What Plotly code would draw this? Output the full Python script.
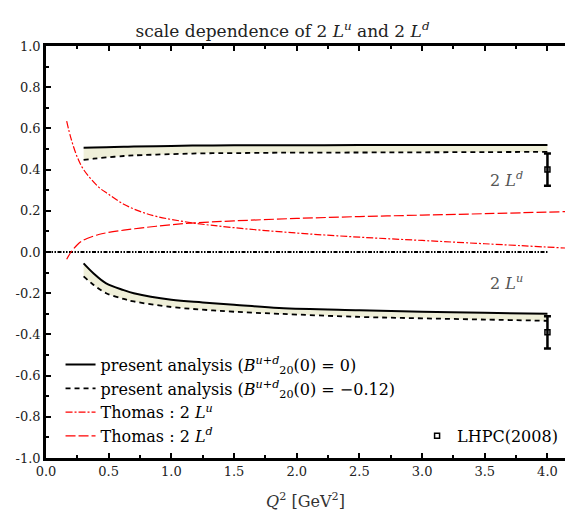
import plotly.graph_objects as go

# ---- data ----
q_band = [0.3, 0.38, 0.48, 0.62, 0.7, 1.0, 1.25, 1.5, 1.86, 2.5, 3.0, 3.5, 4.0]
ld_solid = [0.506, 0.507, 0.509, 0.511, 0.512, 0.515, 0.517, 0.518, 0.518, 0.519, 0.519, 0.52, 0.52]
ld_dashed = [0.447, 0.453, 0.459, 0.466, 0.469, 0.475, 0.479, 0.480, 0.482, 0.483, 0.484, 0.485, 0.486]
lu_solid = [-0.055, -0.104, -0.152, -0.185, -0.20, -0.232, -0.245, -0.256, -0.272, -0.283, -0.29, -0.295, -0.30]
lu_dashed = [-0.118, -0.16, -0.20, -0.228, -0.24, -0.267, -0.28, -0.29, -0.30, -0.315, -0.322, -0.328, -0.334]

q_thomas = [0.165, 0.2, 0.25, 0.3, 0.42, 0.5, 0.62, 0.75, 0.88, 1.15, 1.5, 2.0, 2.5, 3.0, 3.5, 4.15]
thomas_lu = [0.635, 0.55, 0.46, 0.40, 0.315, 0.28, 0.232, 0.197, 0.173, 0.143, 0.118, 0.092, 0.072, 0.056, 0.040, 0.019]
thomas_ld = [-0.035, 0.0, 0.035, 0.058, 0.085, 0.095, 0.106, 0.116, 0.125, 0.140, 0.151, 0.163, 0.172, 0.179, 0.186, 0.196]

lhpc_q = [4.0, 4.0]
lhpc_val = [0.40, -0.39]
lhpc_err = [0.078, 0.078]

zero_q = [0.0, 4.0]
zero_val = [0.0, 0.0]

x_ticks = [0.0, 0.5, 1.0, 1.5, 2.0, 2.5, 3.0, 3.5, 4.0]
x_ticklabels = ["0.0", "0.5", "1.0", "1.5", "2.0", "2.5", "3.0", "3.5", "4.0"]
y_ticks = [-1.0, -0.8, -0.6, -0.4, -0.2, 0.0, 0.2, 0.4, 0.6, 0.8, 1.0]
y_ticklabels = ["-1.0", "-0.8", "-0.6", "-0.4", "-0.2", "0.0", "0.2", "0.4", "0.6", "0.8", "1.0"]

SERIF = "DejaVu Serif"
BAND = "#efefd9"

fig = go.Figure()

# bands
for lo, hi in [(ld_dashed, ld_solid), (lu_dashed, lu_solid)]:
    fig.add_trace(go.Scatter(x=q_band, y=lo, mode="lines", line=dict(width=0, shape="spline"),
                             showlegend=False, hoverinfo="skip"))
    fig.add_trace(go.Scatter(x=q_band, y=hi, mode="lines", line=dict(width=0, shape="spline"),
                             fill="tonexty", fillcolor=BAND, showlegend=False, hoverinfo="skip"))

# zero line
fig.add_trace(go.Scatter(x=zero_q, y=zero_val, mode="lines",
                         line=dict(color="black", width=1.8, dash="4px,1.5px,1.5px,1.5px,1.5px,1.5px"),
                         showlegend=False))

# present analysis
sol_name = "present analysis (<i>B</i><sup><i>u</i>+<i>d</i></sup><sub>20</sub>(0) = 0)"
das_name = "present analysis (<i>B</i><sup><i>u</i>+<i>d</i></sup><sub>20</sub>(0) = −0.12)"
fig.add_trace(go.Scatter(x=q_band, y=ld_solid, mode="lines", name=sol_name,
                         line=dict(color="black", width=2, shape="spline"), legendgroup="a"))
fig.add_trace(go.Scatter(x=q_band, y=lu_solid, mode="lines", showlegend=False,
                         line=dict(color="black", width=2, shape="spline"), legendgroup="a"))
fig.add_trace(go.Scatter(x=q_band, y=ld_dashed, mode="lines", name=das_name,
                         line=dict(color="black", width=1.8, dash="5px,4px", shape="spline"), legendgroup="b"))
fig.add_trace(go.Scatter(x=q_band, y=lu_dashed, mode="lines", showlegend=False,
                         line=dict(color="black", width=1.8, dash="5px,4px", shape="spline"), legendgroup="b"))

# Thomas
fig.add_trace(go.Scatter(x=q_thomas, y=thomas_lu, mode="lines", name="Thomas : 2 <i>L</i><sup><i>u</i></sup>",
                         line=dict(color="red", width=1.2, dash="7px,2px,2px,2px", shape="spline")))
fig.add_trace(go.Scatter(x=q_thomas, y=thomas_ld, mode="lines", name="Thomas : 2 <i>L</i><sup><i>d</i></sup>",
                         line=dict(color="red", width=1.2, dash="10px,3px", shape="spline")))

# LHPC
fig.add_trace(go.Scatter(x=lhpc_q, y=lhpc_val, mode="markers", name="LHPC(2008)", legend="legend2",
                         marker=dict(symbol="square-open", size=5, color="black", line=dict(width=1.5)),
                         error_y=dict(type="data", array=lhpc_err, color="black", thickness=2.5, width=3.5)))

fig.add_annotation(x=3.67, y=0.35, text="2 <i>L</i><sup><i>d</i></sup>", showarrow=False,
                   font=dict(family=SERIF, size=16, color="#555555"))
fig.add_annotation(x=3.67, y=-0.15, text="2 <i>L</i><sup><i>u</i></sup>", showarrow=False,
                   font=dict(family=SERIF, size=16, color="#555555"))

axis_common = dict(showline=True, linecolor="black", linewidth=2.5, ticks="inside", tickcolor="black",
                   showgrid=False, zeroline=False, tickfont=dict(family=SERIF, size=13, color="#222222"))

fig.update_layout(
    width=565, height=514,
    margin=dict(l=46, r=0, t=46, b=56),
    plot_bgcolor="white", paper_bgcolor="white",
    font=dict(family=SERIF),
    title=dict(text="scale dependence of 2 <i>L</i><sup><i>u</i></sup> and 2 <i>L</i><sup><i>d</i></sup>",
               x=0.5, xanchor="center", y=0.94, yanchor="middle", yref="container",
               font=dict(family=SERIF, size=17, color="#222222")),
    xaxis=dict(range=[0, 4.14], tickvals=x_ticks, ticktext=x_ticklabels, ticklen=5, tickwidth=2,
               mirror="ticks", minor=dict(dtick=0.25, ticks="inside", ticklen=3, tickwidth=1.5, tickcolor="black"),
               title=dict(text="<i>Q</i><sup>2</sup> [GeV<sup>2</sup>]", font=dict(family=SERIF, size=16, color="#333333"),
                          standoff=18),
               **axis_common),
    yaxis=dict(range=[-1.0, 1.0], tickvals=y_ticks, ticktext=y_ticklabels, ticklen=5, tickwidth=2,
               minor=dict(dtick=0.1, ticks="inside", ticklen=3, tickwidth=1.5, tickcolor="black"),
               **axis_common),
    legend=dict(x=0.028, y=0.268, xanchor="left", yanchor="top", bgcolor="rgba(0,0,0,0)",
                font=dict(family=SERIF, size=16, color="black"), tracegroupgap=0, itemwidth=30),
    legend2=dict(x=0.715, y=0.095, xanchor="left", yanchor="top", bgcolor="rgba(0,0,0,0)",
                 font=dict(family=SERIF, size=16, color="black"), itemwidth=30),
)

fig.write_html("out.html")
